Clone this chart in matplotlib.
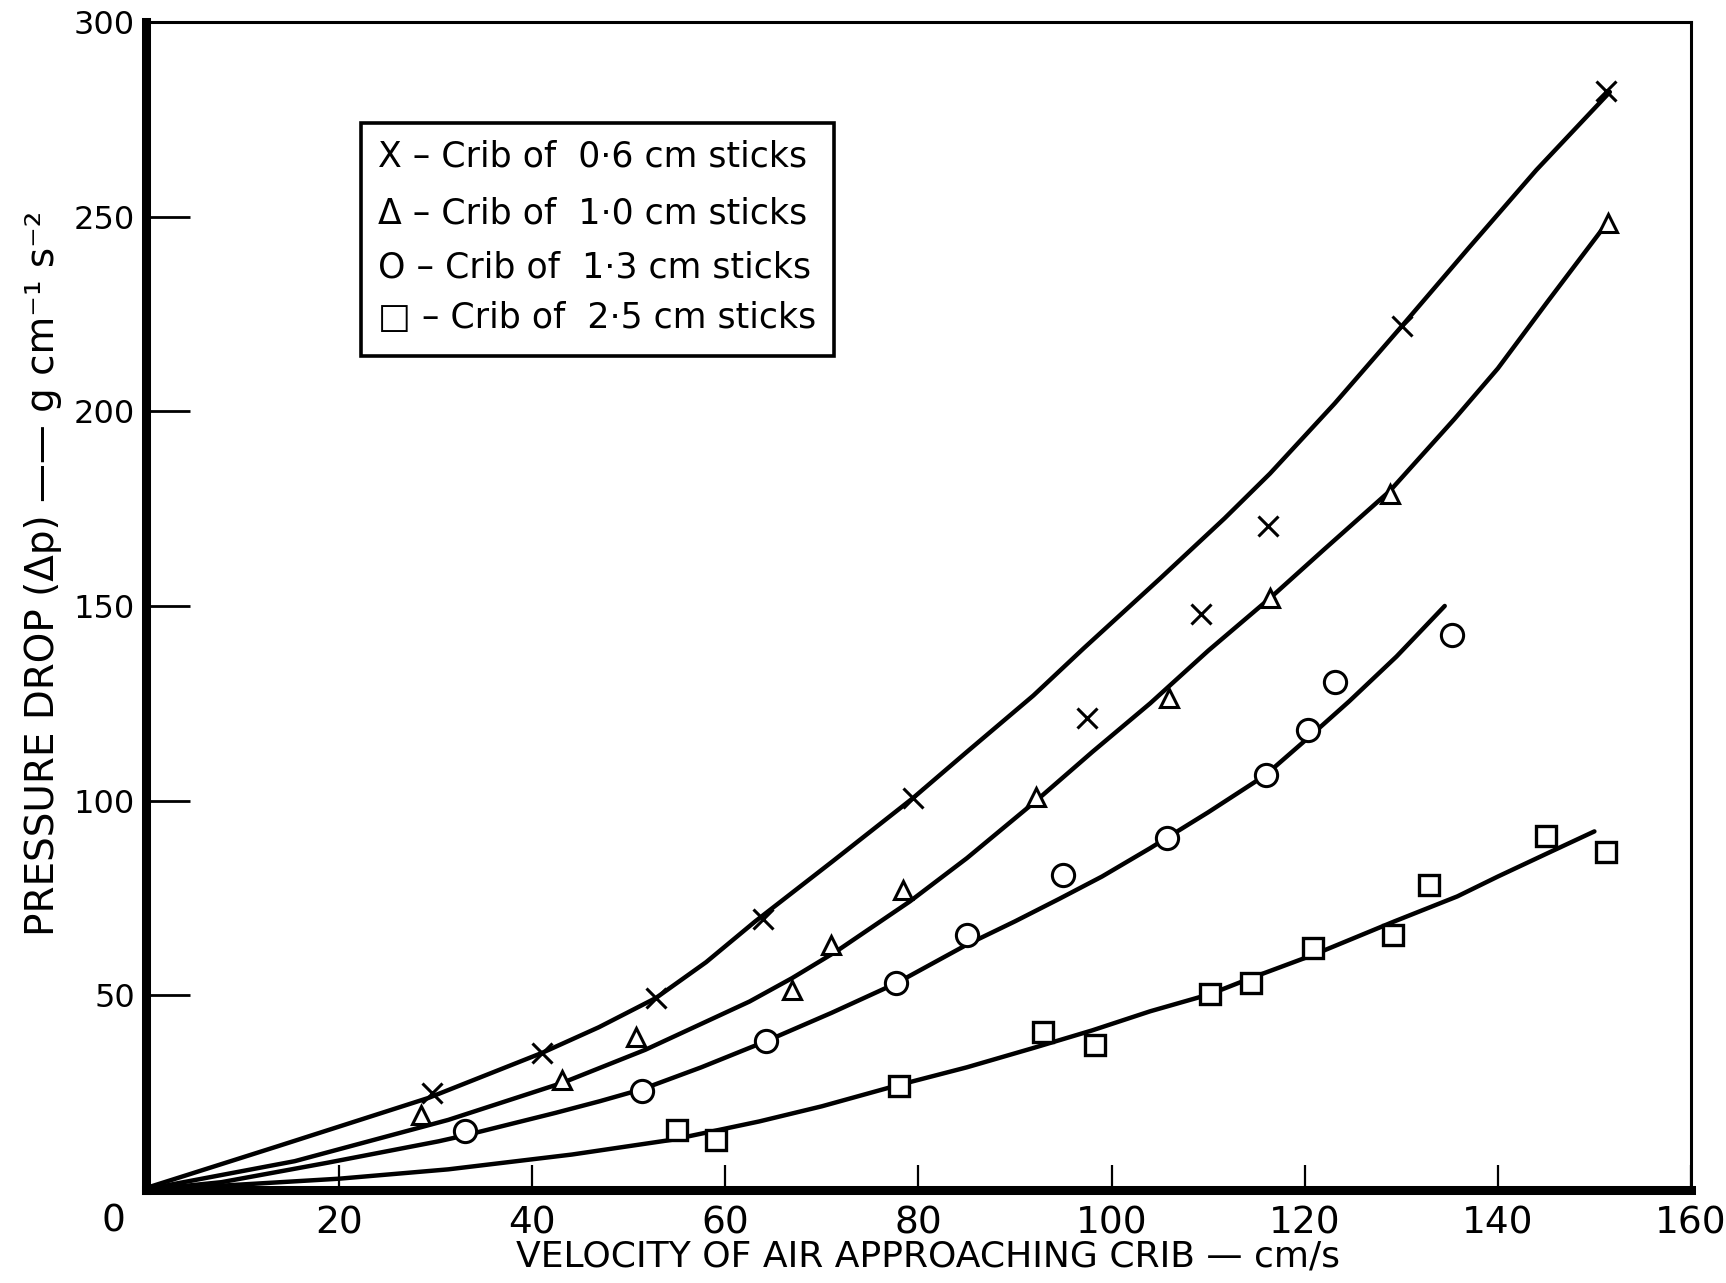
import matplotlib.pyplot as plt
from matplotlib.patches import Rectangle

# measured points (velocity cm/s, pressure drop g cm-1 s-2)
x06 = [29.6, 41.0, 52.8, 63.9, 79.4, 97.4, 109.3, 116.2, 130.1, 151.2]
y06 = [24.9, 35.2, 49.3, 69.5, 100.6, 121.2, 148.0, 170.5, 222.0, 282.2]

x10 = [28.5, 43.1, 50.7, 66.9, 70.9, 78.4, 92.2, 105.9, 116.4, 128.8, 151.4]
y10 = [19.3, 28.3, 39.4, 51.4, 63.0, 77.1, 101.0, 126.4, 152.0, 178.8, 248.3]

x13 = [33.0, 51.4, 64.2, 77.7, 85.0, 95.0, 105.7, 116.0, 120.3, 123.1, 135.3]
y13 = [15.1, 25.3, 38.2, 53.1, 65.5, 80.9, 90.5, 106.6, 118.1, 130.5, 142.5]

x25 = [55.0, 59.0, 78.0, 92.9, 98.3, 110.2, 114.4, 120.9, 129.1, 132.9, 145.0, 151.2]
y25 = [15.5, 12.9, 26.8, 40.7, 37.3, 50.3, 53.1, 62.1, 65.5, 78.4, 90.8, 86.9]

# hand drawn curves
cx06 = [0, 13.6, 29.2, 41, 46.9, 52.8, 58, 63.1, 71.1, 79.4, 85, 91.9, 97.1, 105, 111.7, 116.4, 123.1, 130.1, 137, 144, 151.6]
cy06 = [0.5, 11.2, 23.6, 35.2, 41.8, 49.3, 58.5, 69, 84.4, 100.6, 112.5, 127, 139.1, 157, 172.5, 184, 202, 222, 242, 262, 282]

cx10 = [0.5, 2.6, 15.4, 31.3, 43.1, 51.7, 62.5, 66.9, 71.5, 79.1, 85, 92.2, 98, 104, 110, 116.4, 122, 128.8, 135.5, 140, 145.1, 151.5]
cy10 = [0.3, 1.4, 7.4, 18, 27.5, 36, 48.4, 54.4, 61.3, 74.1, 85.2, 100, 112.5, 125, 138.5, 152, 164.5, 179.5, 198, 211, 228, 249]

cx13 = [1.0, 7.8, 18.8, 30.3, 33, 42.4, 47, 51.4, 57.5, 64.2, 71, 77.7, 85, 90, 94.6, 99, 104, 110, 115.9, 120.3, 124.6, 129.5, 134.5]
cy13 = [0.3, 2.0, 7.0, 12.5, 14.0, 19.8, 22.8, 25.9, 31.5, 38.2, 45.5, 53.1, 63, 69, 74.8, 80.5, 87.8, 97, 106.5, 116, 125.5, 137, 150]

cx25 = [1.5, 11.2, 20, 31.3, 44.1, 54.5, 63.5, 70, 78, 85, 91.8, 98, 104, 110.2, 114.4, 120.9, 129.3, 135.8, 140, 145.5, 150]
cy25 = [0.2, 1.6, 2.9, 5.3, 9.1, 12.9, 17.6, 21.5, 27, 31.5, 36.4, 41, 45.9, 50.3, 54.4, 60.4, 69, 75.4, 80.5, 86.9, 92.1]

legend_lines = ['X – Crib of  0·6 cm sticks',
                'Δ – Crib of  1·0 cm sticks',
                'O – Crib of  1·3 cm sticks',
                '□ – Crib of  2·5 cm sticks']

xticks = [20, 40, 60, 80, 100, 120, 140, 160]
yticks = [50, 100, 150, 200, 250, 300]

plt.rcParams['font.family'] = ['DejaVu Sans']

fig = plt.figure(figsize=(17.26, 12.83), dpi=100)
ax = fig.add_axes([0.0846, 0.0725, 0.8951, 0.9104])

# curves
for cx, cy in [(cx06, cy06), (cx10, cy10), (cx13, cy13), (cx25, cy25)]:
    ax.plot(cx, cy, color='black', lw=3.2, solid_capstyle='round',
            solid_joinstyle='round', zorder=2)

# points
ax.plot(x06, y06, ls='none', marker='x', ms=14, mew=2.2, color='black', zorder=3)
ax.plot(x10, y10, ls='none', marker='^', ms=13, mfc='white', mec='black', mew=2.2, zorder=3)
ax.plot(x13, y13, ls='none', marker='o', ms=16, mfc='white', mec='black', mew=2.2, zorder=3)
ax.plot(x25, y25, ls='none', marker='s', ms=15, mfc='white', mec='black', mew=2.4, zorder=3)

ax.set_xlim(0, 160)
ax.set_ylim(0, 300)
ax.set_xticks(xticks)
ax.set_yticks(yticks)
ax.set_xticklabels([str(t) for t in xticks])
ax.set_yticklabels([str(t) for t in yticks])

ax.tick_params(axis='y', direction='in', length=32, width=2, pad=8, labelsize=23)
ax.tick_params(axis='x', direction='in', length=18, width=1.6, pad=11, labelsize=27)

ax.spines['left'].set_linewidth(6.5)
ax.spines['bottom'].set_linewidth(6.5)
ax.spines['top'].set_linewidth(2.2)
ax.spines['right'].set_linewidth(2.2)

# origin label sits left of the corner
ax.text(-0.021, -0.027, '0', transform=ax.transAxes, ha='center', va='center', fontsize=27)

ax.text(0.506, -0.057, 'VELOCITY OF AIR APPROACHING CRIB — cm/s', transform=ax.transAxes,
        ha='center', va='center', fontsize=26)
ax.text(-0.067, 0.528, 'PRESSURE DROP (Δp) —— g cm⁻¹ s⁻²', transform=ax.transAxes,
        ha='center', va='center', rotation=90, fontsize=28)

# legend box
ax.add_patch(Rectangle((0.139, 0.714), 0.306, 0.1995, transform=ax.transAxes,
                       facecolor='white', edgecolor='black', lw=2.6, zorder=4))
for i, line in enumerate(legend_lines):
    ax.text(0.150, [0.8844, 0.836, 0.7898, 0.7466][i], line, transform=ax.transAxes,
            ha='left', va='center', fontsize=25, zorder=5)

fig.savefig('out.png', dpi=100)
